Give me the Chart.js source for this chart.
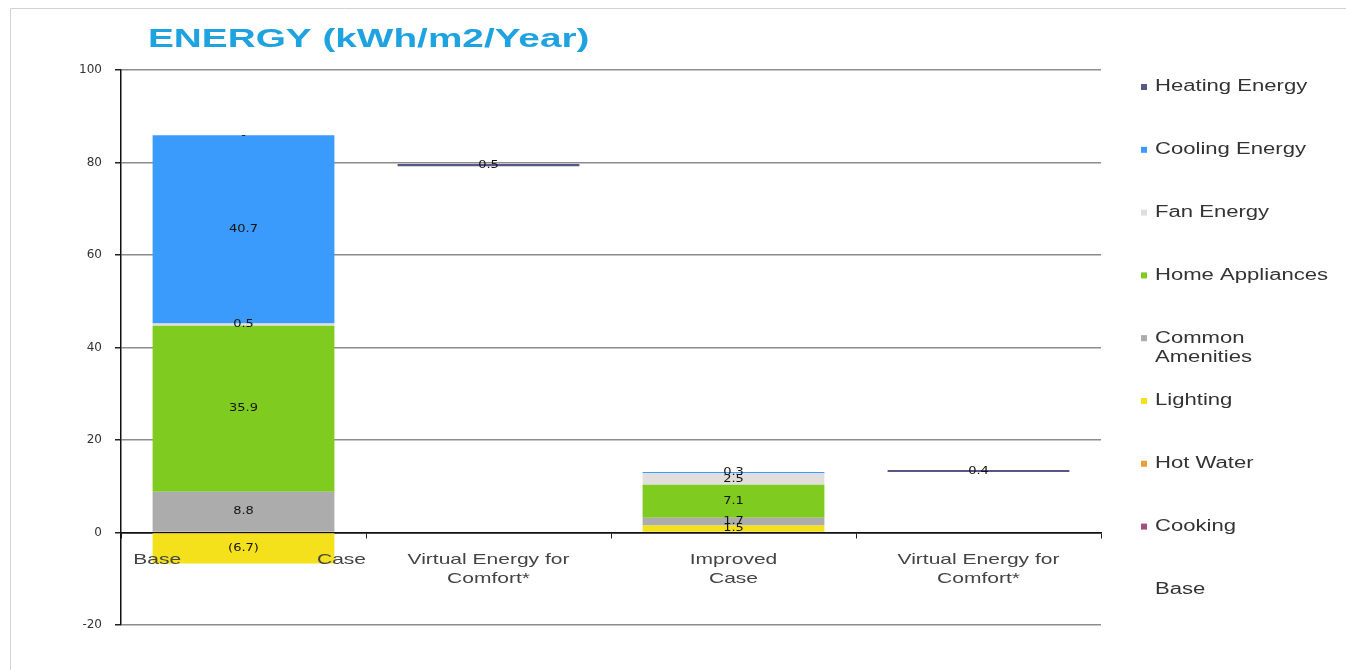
<!DOCTYPE html>
<html>
<head>
<meta charset="utf-8">
<script src="https://cdn.jsdelivr.net/npm/chart.js@4.4.1/dist/chart.umd.min.js"></script>
<style>
  html, body { margin: 0; padding: 0; background: #ffffff; overflow: hidden; }
  canvas { display: block; }
</style>
</head>
<body>
<canvas id="energy" width="1346" height="670"></canvas>
<script>
// Categories along the x axis (multi-line labels as arrays)
const categories = [
  ['Base Case'],
  ['Virtual Energy for', 'Comfort*'],
  ['Improved', 'Case'],
  ['Virtual Energy for', 'Comfort*']
];

// Series, stacked from the bottom up (kWh/m2/year)
const base            = [null, 79.2, null, 13.1];   // invisible offset for the floating bars
const cooking         = [null, null, null, null];
const hotWater        = [0,    null, null, null];
const lighting        = [-6.7, null, 1.5,  null];
const commonAmenities = [8.8,  null, 1.7,  null];
const homeAppliances  = [35.9, null, 7.1,  null];
const fanEnergy       = [0.5,  null, 2.5,  null];
const coolingEnergy   = [40.7, null, 0.3,  null];
const heatingEnergy   = [0,    0.5,  null, 0.4];

// Value axis ticks
const yTicks = [-20, 0, 20, 40, 60, 80, 100];

const TITLE = 'ENERGY (kWh/m2/Year)';

const datasets = [
  { label: 'Base',             data: base,            backgroundColor: 'rgba(0,0,0,0)', labels: false },
  { label: 'Cooking',          data: cooking,         backgroundColor: '#a3507e', labels: false },
  { label: 'Hot Water',        data: hotWater,        backgroundColor: '#ec9d3c', labels: true },
  { label: 'Lighting',         data: lighting,        backgroundColor: '#f4e11c', labels: true },
  { label: 'Common Amenities', data: commonAmenities, backgroundColor: '#acacac', labels: true },
  { label: 'Home Appliances',  data: homeAppliances,  backgroundColor: '#7fcb20', labels: true },
  { label: 'Fan Energy',       data: fanEnergy,       backgroundColor: '#e3dede', labels: true },
  { label: 'Cooling Energy',   data: coolingEnergy,   backgroundColor: '#3b9bfd', labels: true },
  { label: 'Heating Energy',   data: heatingEnergy,   backgroundColor: '#565689', labels: true }
];

// Text drawn with a horizontal stretch
function wideText(ctx, text, x, y, sx, align) {
  ctx.save();
  ctx.translate(x, y);
  ctx.scale(sx, 1);
  ctx.textAlign = align;
  ctx.fillText(text, 0, 0);
  ctx.restore();
}

function fmtValue(v) {
  if (v === 0) return '-';
  if (v < 0) return '(' + Math.abs(v).toFixed(1) + ')';
  return v.toFixed(1);
}

const decorations = {
  id: 'decorations',
  beforeDraw(chart) {
    const ctx = chart.ctx;
    ctx.save();
    ctx.fillStyle = '#ffffff';
    ctx.fillRect(0, 0, chart.width, chart.height);
    // frame
    ctx.strokeStyle = '#d2d2d2';
    ctx.lineWidth = 1;
    ctx.beginPath();
    ctx.moveTo(10.5, chart.height);
    ctx.lineTo(10.5, 8.5);
    ctx.lineTo(chart.width, 8.5);
    ctx.stroke();
    ctx.restore();
  },
  afterDatasetsDraw(chart) {
    const ctx = chart.ctx;
    const ys = chart.scales.y;
    const sets = chart.data.datasets;
    ctx.save();
    ctx.font = '10px "DejaVu Sans", sans-serif';
    ctx.fillStyle = '#141414';
    ctx.textBaseline = 'middle';
    sets.forEach((ds, di) => {
      if (!ds.labels) return;
      const meta = chart.getDatasetMeta(di);
      meta.data.forEach((el, i) => {
        const v = ds.data[i];
        if (v === null || v === undefined) return;
        const p = el.getProps(['x', 'y', 'base'], true);
        let cy = (p.y + p.base) / 2;
        if (v === 0) {
          // a zero segment sits on top of the positive stack beneath it
          let top = 0;
          for (let k = 0; k < di; k++) {
            const o = sets[k].data[i];
            if (o > 0) top += o;
          }
          cy = ys.getPixelForValue(top);
        }
        wideText(ctx, fmtValue(v), p.x, cy, 1.3, 'center');
      });
    });
    ctx.restore();
  },
  afterDraw(chart) {
    const ctx = chart.ctx;
    const xs = chart.scales.x;
    const ys = chart.scales.y;
    ctx.save();

    // title
    ctx.font = 'bold 25px "Liberation Sans", Arial, sans-serif';
    ctx.fillStyle = '#1fa2e0';
    ctx.textBaseline = 'middle';
    wideText(ctx, TITLE, 148, 40, 1.55, 'left');

    // category labels just under the zero line
    ctx.font = '15px "Liberation Sans", Arial, sans-serif';
    ctx.fillStyle = '#444444';
    const y0 = ys.getPixelForValue(0);
    const band = xs.width / categories.length;
    categories.forEach((lines, i) => {
      const cx = xs.getPixelForValue(i);
      if (lines.length === 1) {
        // single-line label justified across its band
        const words = lines[0].split(' ');
        const left = cx - band / 2 + band * 0.05;
        const right = cx + band / 2;
        wideText(ctx, words[0], left, y0 + 27, 1.4, 'left');
        wideText(ctx, words[words.length - 1], right, y0 + 27, 1.4, 'right');
      } else {
        lines.forEach((t, k) => wideText(ctx, t, cx, y0 + 27 + k * 19, 1.4, 'center'));
      }
    });

    // legend, top series first
    ctx.font = '16px "Liberation Sans", Arial, sans-serif';
    const sx = 1.38;
    const maxW = 185;
    const items = chart.data.datasets.slice().reverse();
    items.forEach((ds, k) => {
      const yc = 87 + k * 62.8;
      if (ds.backgroundColor !== 'rgba(0,0,0,0)') {
        ctx.fillStyle = ds.backgroundColor;
        ctx.fillRect(1141, yc - 3, 6, 6);
      }
      ctx.fillStyle = '#333333';
      // wrap long labels into lines
      const words = ds.label.split(' ');
      const lines = [];
      let cur = '';
      words.forEach(w => {
        const test = cur ? cur + ' ' + w : w;
        if (ctx.measureText(test).width * sx > maxW && cur) { lines.push(cur); cur = w; }
        else cur = test;
      });
      lines.push(cur);
      lines.forEach((t, j) => wideText(ctx, t, 1155, yc + j * 19, sx, 'left'));
    });
    ctx.restore();
  }
};

new Chart(document.getElementById('energy'), {
  type: 'bar',
  data: { labels: categories, datasets },
  options: {
    responsive: false,
    animation: false,
    devicePixelRatio: 1,
    layout: { padding: { left: 60, right: 245, top: 70, bottom: 45 } },
    datasets: { bar: { categoryPercentage: 1, barPercentage: 0.742 } },
    plugins: {
      legend: { display: false },
      title: { display: false },
      tooltip: { enabled: false }
    },
    scales: {
      x: {
        stacked: true,
        position: { y: 0 },
        ticks: { display: false },
        grid: { display: true, drawOnChartArea: false, drawTicks: true, tickLength: 5, color: '#222222', offset: true },
        border: { display: true, color: '#111111', width: 1.5 },
        afterFit(scale) { scale.height = 0; }
      },
      y: {
        stacked: true,
        min: yTicks[0],
        max: yTicks[yTicks.length - 1],
        ticks: {
          stepSize: yTicks[1] - yTicks[0],
          color: '#333333',
          padding: 13,
          font: { family: '"DejaVu Sans", sans-serif', size: 12 }
        },
        grid: {
          color: c => (c.tick && c.tick.value === 0) ? '#111111' : '#8c8c8c',
          lineWidth: 1.5,
          tickColor: '#222222',
          tickLength: 6
        },
        border: { display: true, color: '#111111', width: 1.5 },
        afterFit(scale) { scale.width = 61; }
      }
    }
  },
  plugins: [decorations]
});
</script>
</body>
</html>
